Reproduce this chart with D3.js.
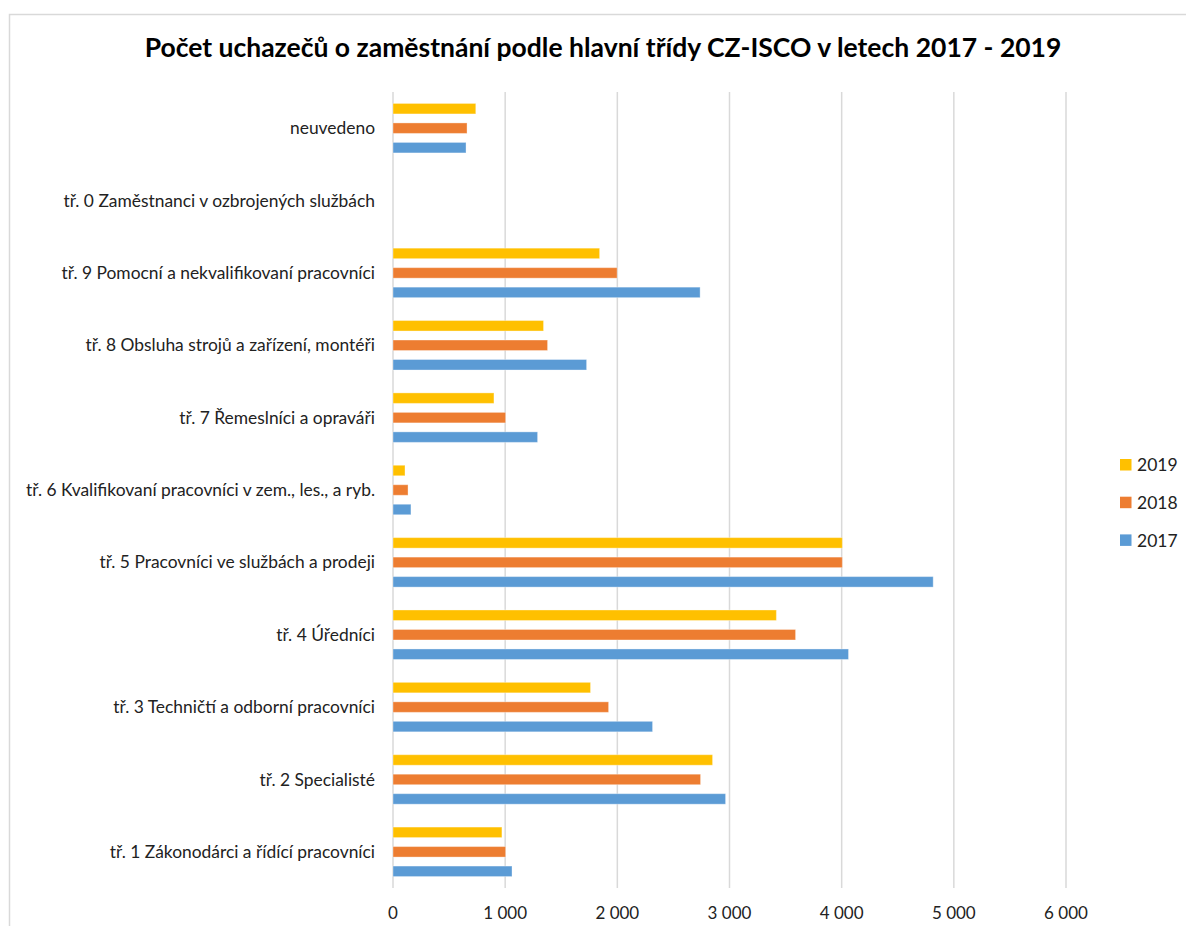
<!DOCTYPE html>
<html><head><meta charset="utf-8">
<script src="https://cdn.jsdelivr.net/npm/d3@7"></script>
<style>body{margin:0;background:#fff}svg{display:block}</style>
</head><body>
<svg id="c" width="1186" height="926"></svg>
<script>
const categories = [
  "neuvedeno",
  "tř. 0 Zaměstnanci v ozbrojených službách",
  "tř. 9 Pomocní a nekvalifikovaní pracovníci",
  "tř. 8 Obsluha strojů a zařízení, montéři",
  "tř. 7 Řemeslníci a opraváři",
  "tř. 6 Kvalifikovaní pracovníci v zem., les., a ryb.",
  "tř. 5 Pracovníci ve službách a prodeji",
  "tř. 4 Úředníci",
  "tř. 3 Techničtí a odborní pracovníci",
  "tř. 2 Specialisté",
  "tř. 1 Zákonodárci a řídící pracovníci"
];
const seriesNames = ["2019", "2018", "2017"];
const values2019 = [738, 0, 1842, 1342, 900, 107, 4006, 3418, 1761, 2849, 971];
const values2018 = [660, 0, 1998, 1378, 1004, 134, 4006, 3589, 1922, 2742, 1004];
const values2017 = [651, 0, 2738, 1726, 1289, 160, 4816, 4061, 2314, 2965, 1061];
const seriesColors = ["#FFC000", "#ED7D31", "#5B9BD5"];
const xTicks = [0, 1000, 2000, 3000, 4000, 5000, 6000];
const title = "Počet uchazečů o zaměstnání podle hlavní třídy CZ-ISCO v letech 2017 - 2019";

const seriesValues = [values2019, values2018, values2017];
const svg = d3.select("#c");
const font = "Lato, 'Open Sans', sans-serif";

// frame
svg.append("rect").attr("x", 9.5).attr("y", 14.5).attr("width", 1200).attr("height", 1000)
  .attr("fill", "none").attr("stroke", "#d9d9d9").attr("stroke-width", 1.5);

svg.append("text").attr("x", 603).attr("y", 57).attr("text-anchor", "middle")
  .attr("font-family", font).attr("font-weight", "bold").attr("font-size", 26.5)
  .attr("fill", "#000").text(title);

const x = d3.scaleLinear().domain([0, 6000]).range([393, 1066]);
const y = d3.scaleBand().domain(categories).range([92, 888]);
const yInner = d3.scaleBand().domain(seriesNames).range([0, y.bandwidth()])
  .paddingInner(0.4615).paddingOuter(0.587);

// gridlines
svg.append("g").selectAll("line").data(xTicks).join("line")
  .attr("x1", d => x(d)).attr("x2", d => x(d))
  .attr("y1", 92).attr("y2", 888)
  .attr("stroke", "#d9d9d9").attr("stroke-width", 1.5);

// x tick labels
svg.append("g").selectAll("text").data(xTicks).join("text")
  .attr("x", d => x(d)).attr("y", 919).attr("text-anchor", "middle")
  .attr("font-family", font).attr("font-size", 17).attr("fill", "#222")
  .text(d => d3.format(",")(d).replace(/,/g, "\u00a0"));

// category labels
svg.append("g").selectAll("text").data(categories).join("text")
  .attr("x", 375).attr("y", d => y(d) + y.bandwidth() / 2)
  .attr("dy", "0.35em").attr("text-anchor", "end")
  .attr("font-family", font).attr("font-size", 17.4).attr("fill", "#222")
  .text(d => d);

// bars
seriesNames.forEach((s, si) => {
  svg.append("g").selectAll("rect").data(categories).join("rect")
    .attr("x", x(0))
    .attr("y", d => y(d) + yInner(s))
    .attr("width", (d, i) => x(seriesValues[si][i]) - x(0))
    .attr("height", yInner.bandwidth())
    .attr("fill", seriesColors[si])
    .attr("stroke", "#ffffff").attr("stroke-opacity", 0.35).attr("stroke-width", 1);
});

// legend
const lg = svg.append("g");
seriesNames.forEach((s, i) => {
  const cy = 465 + i * 37.7;
  lg.append("rect").attr("x", 1120).attr("y", cy - 6).attr("width", 11.5).attr("height", 11.5)
    .attr("fill", seriesColors[i]);
  lg.append("text").attr("x", 1137).attr("y", cy).attr("dy", "0.36em")
    .attr("font-family", font).attr("font-size", 17.5).attr("fill", "#222").text(s);
});
</script>
</body></html>
